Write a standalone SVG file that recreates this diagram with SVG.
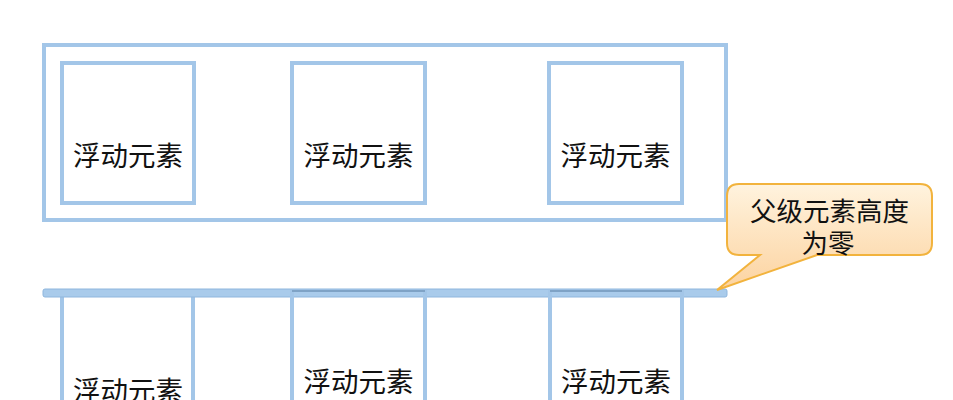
<svg xmlns="http://www.w3.org/2000/svg" width="953" height="400" viewBox="0 0 953 400">
<style>
.box{fill:none;stroke:#A3C6E8;stroke-width:4}
.lbl{font-family:"Noto Sans CJK SC","Noto Sans",sans-serif;font-size:27.5px;fill:#111;text-anchor:middle}
.cl{font-size:26.5px}
</style>
<defs>
<linearGradient id="cg" x1="0" y1="0" x2="0" y2="1">
<stop offset="0" stop-color="#FFF3DE"/>
<stop offset="1" stop-color="#FCD3A0"/>
</linearGradient>
</defs>
<rect width="953" height="400" fill="#fff"/>
<g id="parent-top">
<rect class="box" x="44" y="45" width="682" height="175"/>
</g>
<g id="float-top-1">
<rect class="box" x="62" y="63" width="132" height="140"/>
<text class="lbl" x="128" y="166">浮动元素</text>
</g>
<g id="float-top-2">
<rect class="box" x="292" y="63" width="133" height="140"/>
<text class="lbl" x="358.5" y="166">浮动元素</text>
</g>
<g id="float-top-3">
<rect class="box" x="549" y="63" width="133" height="140"/>
<text class="lbl" x="615.5" y="166">浮动元素</text>
</g>
<g id="float-bottom-1">
<path class="box" d="M62,296 V402 M193,296 V402"/>
<text class="lbl" x="128" y="401">浮动元素</text>
</g>
<g id="parent-bottom">
<rect x="43" y="289" width="684" height="8" rx="2" fill="#A9CBEB" stroke="#8FB6DD" stroke-width="1"/>
</g>
<g id="float-bottom-2">
<path class="box" d="M292,290 V402 M425,290 V402"/>
<line x1="292" y1="291" x2="425" y2="291" stroke="#7FA3C6" stroke-width="2"/>
<text class="lbl" x="358.5" y="392">浮动元素</text>
</g>
<g id="float-bottom-3">
<path class="box" d="M550,290 V402 M682,290 V402"/>
<line x1="550" y1="291" x2="682" y2="291" stroke="#7FA3C6" stroke-width="2"/>
<text class="lbl" x="616" y="392">浮动元素</text>
</g>
<g id="callout">
<path d="M739,184 H920 Q932,184 932,196 V243 Q932,255 920,255 H817 L717,290 L760,255 H739 Q727,255 727,243 V196 Q727,184 739,184 Z" fill="url(#cg)" stroke="#F2B33D" stroke-width="2"/>
<text class="lbl cl" x="829.5" y="221">父级元素高度</text>
<text class="lbl cl" x="828" y="253">为零</text>
</g>
</svg>
